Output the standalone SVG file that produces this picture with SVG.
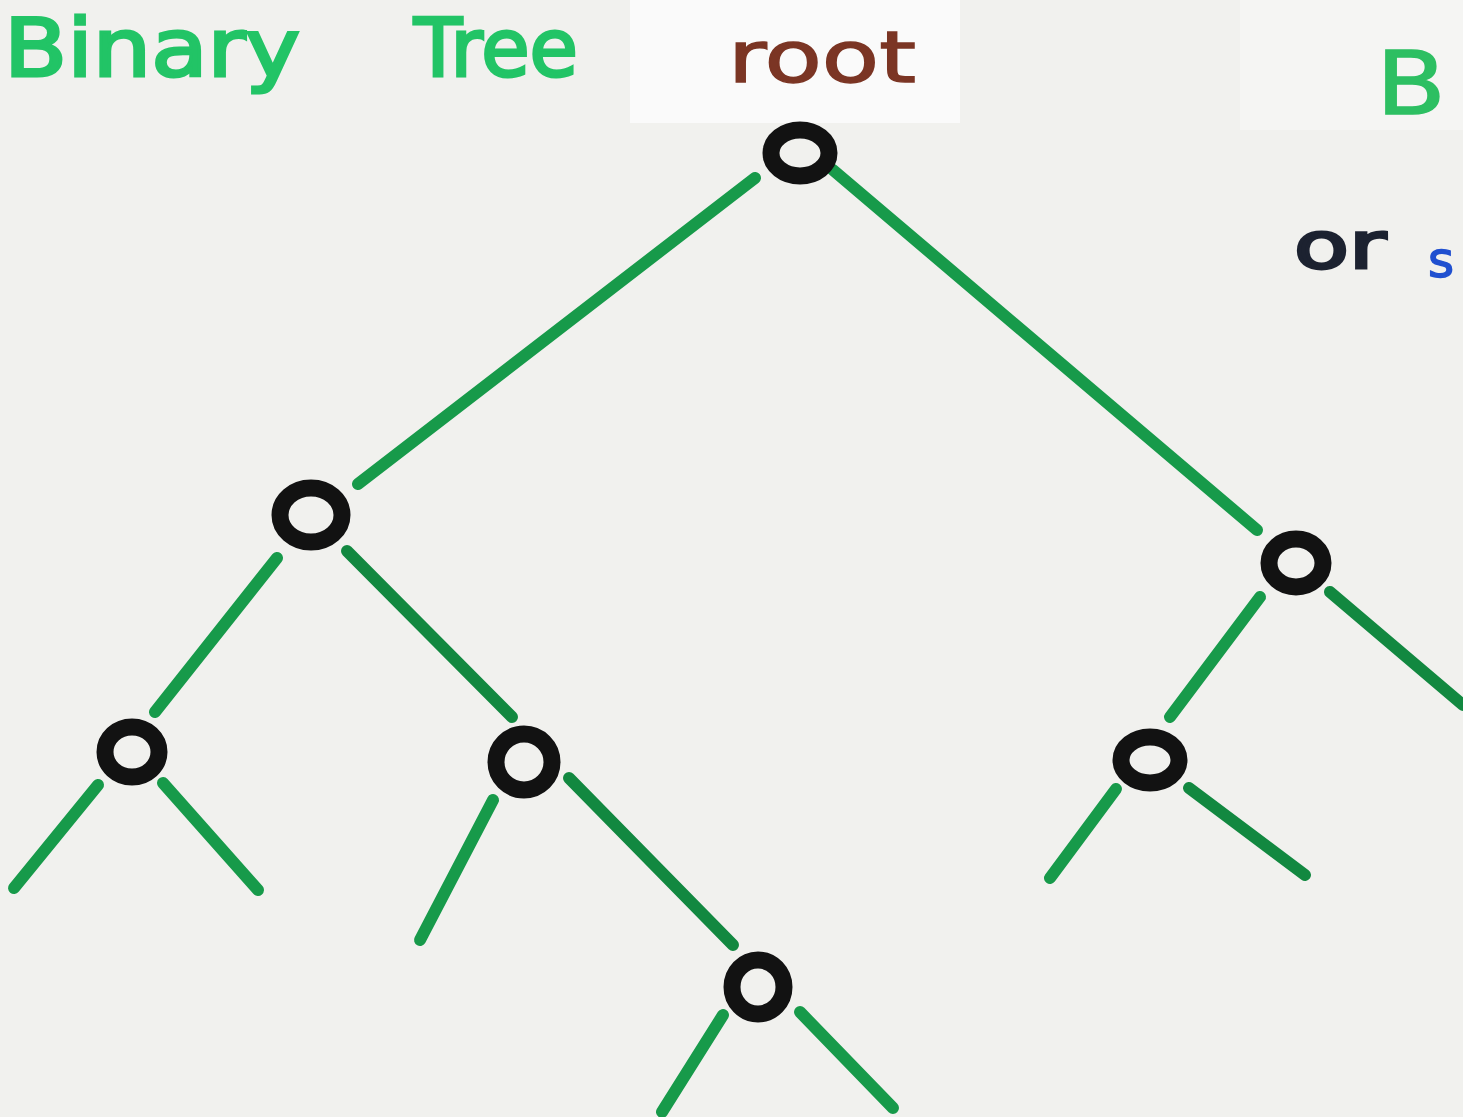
<svg xmlns="http://www.w3.org/2000/svg" width="1463" height="1117" viewBox="0 0 1463 1117">
  <defs>
    <style>
      .edge { stroke: #179a4a; stroke-width: 12; stroke-linecap: round; fill: none; }
      .dark { stroke: #128840; }
      .ring { fill: none; stroke: #121212; stroke-width: 17; }
      .hand { font-family: "DejaVu Sans", "Liberation Sans", sans-serif; }
      .title { fill: #22c466; stroke: #22c466; stroke-width: 3; font-size: 80px; }
    </style>
  </defs>
  <rect x="0" y="0" width="1463" height="1117" fill="#f1f1ee"/>
  <rect x="630" y="0" width="330" height="123" fill="#fafafa"/>
  <rect x="1240" y="0" width="223" height="130" fill="#f5f5f3"/>

  <g id="labels">
    <text class="hand title" x="4" y="76" textLength="296" lengthAdjust="spacingAndGlyphs">Binary</text>
    <text class="hand title" x="414" y="76" textLength="164" lengthAdjust="spacingAndGlyphs">Tree</text>
    <text class="hand" x="728" y="82" font-size="72" fill="#7b3524" stroke="#7b3524" stroke-width="1.5" textLength="188" lengthAdjust="spacingAndGlyphs">root</text>
    <text class="hand" x="1376" y="114" font-size="88" fill="#2dbf62" stroke="#2dbf62" stroke-width="1.5" textLength="70" lengthAdjust="spacingAndGlyphs">B</text>
    <text class="hand" x="1294" y="268" font-size="64" fill="#1c2230" stroke="#1c2230" stroke-width="3" textLength="92" lengthAdjust="spacingAndGlyphs">or</text>
    <text class="hand" x="1428" y="277" font-size="50" fill="#2050d0" stroke="#2050d0" stroke-width="1.5">s</text>
  </g>

  <g id="connectors">
    <line class="edge" x1="755" y1="178" x2="358" y2="484"/>
    <line class="edge" x1="833" y1="170" x2="1257" y2="530"/>
    <line class="edge" x1="277" y1="558" x2="155" y2="712"/>
    <line class="edge dark" x1="347" y1="551" x2="512" y2="717"/>
    <line class="edge" x1="98" y1="785" x2="14" y2="888"/>
    <line class="edge" x1="163" y1="783" x2="258" y2="890"/>
    <line class="edge" x1="493" y1="800" x2="420" y2="940"/>
    <line class="edge dark" x1="569" y1="778" x2="733" y2="945"/>
    <line class="edge" x1="723" y1="1015" x2="662" y2="1112"/>
    <line class="edge" x1="800" y1="1012" x2="893" y2="1108"/>
    <line class="edge" x1="1260" y1="597" x2="1170" y2="717"/>
    <line class="edge dark" x1="1330" y1="592" x2="1463" y2="705"/>
    <line class="edge" x1="1116" y1="789" x2="1050" y2="878"/>
    <line class="edge dark" x1="1189" y1="788" x2="1305" y2="875"/>
  </g>

  <g id="node-root"><ellipse class="ring" cx="800" cy="153" rx="29" ry="23"/></g>
  <g id="node-l"><ellipse class="ring" cx="311" cy="515" rx="31" ry="27"/></g>
  <g id="node-r"><ellipse class="ring" cx="1296" cy="563" rx="27" ry="24"/></g>
  <g id="node-ll"><ellipse class="ring" cx="132" cy="752" rx="27" ry="25"/></g>
  <g id="node-lr"><ellipse class="ring" cx="524" cy="762" rx="28" ry="28"/></g>
  <g id="node-rl"><ellipse class="ring" cx="1150" cy="760" rx="29" ry="23"/></g>
  <g id="node-lrr"><ellipse class="ring" cx="758" cy="987" rx="26" ry="27"/></g>
</svg>
